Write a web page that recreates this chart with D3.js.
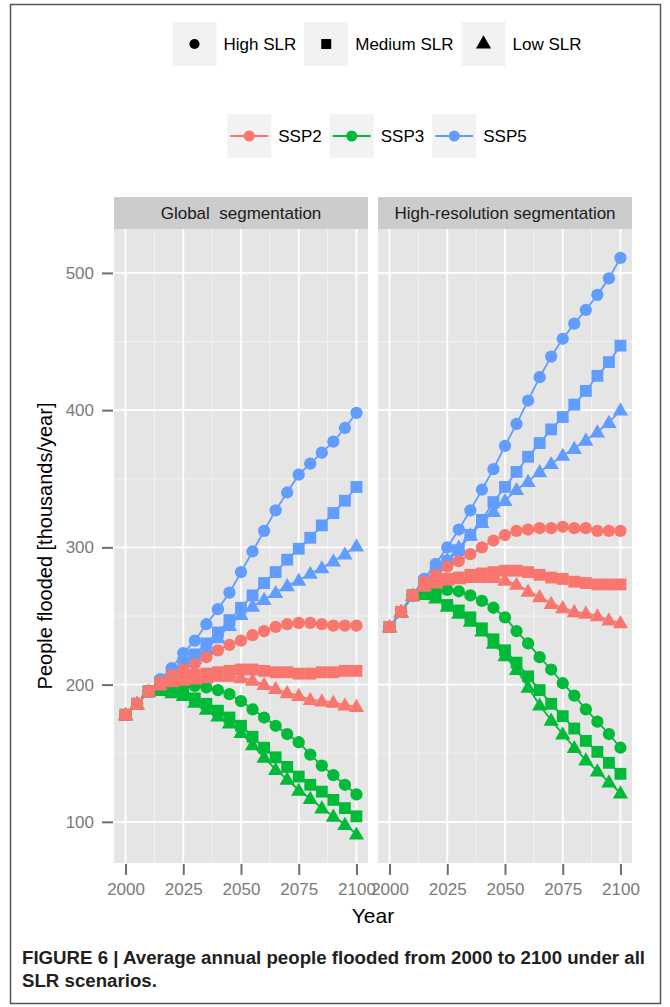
<!DOCTYPE html>
<html>
<head>
<meta charset="utf-8">
<script src="https://cdn.jsdelivr.net/npm/d3@7"></script>
<style>
  body { margin: 0; background: #fff; }
  text { font-family: "Liberation Sans", Arial, Helvetica, sans-serif; }
</style>
</head>
<body>
<svg id="chart" width="670" height="1007"></svg>
<script>
// ---- data ----
const years = [2000, 2005, 2010, 2015, 2020, 2025, 2030, 2035, 2040, 2045, 2050,
               2055, 2060, 2065, 2070, 2075, 2080, 2085, 2090, 2095, 2100];
const panelNames = ["Global  segmentation", "High-resolution segmentation"];
const sspNames = ["SSP2", "SSP3", "SSP5"];
const slrNames = ["High SLR", "Medium SLR", "Low SLR"];
const sspColors = ["#F8766D", "#00BA38", "#619CFF"];
const xTicks = [2000, 2025, 2050, 2075, 2100];
const yTicks = [100, 200, 300, 400, 500];

// Global segmentation
const globSSP2High = [178,186,195,202,207,211,215,220,225,229,232,236,239,242,244,245,245,244,243,243,243];
const globSSP2Med  = [178,186,195,200,203,205,207,208,209,210,211,211,210,209,209,208,208,209,209,210,210];
const globSSP2Low  = [178,186,195,200,202,203,204,205,206,206,205,203,200,197,194,192,189,188,187,185,184];
const globSSP3High = [178,186,195,199,199,199,199,198,196,193,188,182,176,170,164,158,149,141,134,127,120];
const globSSP3Med  = [178,186,195,196,195,194,190,186,181,176,170,162,154,147,140,133,127,122,116,110,104];
const globSSP3Low  = [178,186,195,196,194,192,187,182,177,172,165,156,147,138,131,123,117,110,104,98,91];
const globSSP5High = [178,186,195,204,212,223,232,244,255,267,282,297,312,327,340,353,361,369,377,387,398];
const globSSP5Med  = [178,186,195,202,209,216,222,230,238,247,256,265,274,282,291,299,307,316,325,334,344];
const globSSP5Low  = [178,186,195,201,207,213,219,226,234,243,251,257,262,267,272,276,281,285,290,295,301];

// High-resolution segmentation
const hiresSSP2High = [242,253,265,275,280,286,290,295,300,305,309,312,313,314,314,315,314,314,312,312,312];
const hiresSSP2Med  = [242,253,265,272,275,277,278,280,281,282,283,283,282,280,278,277,275,274,273,273,273];
const hiresSSP2Low  = [242,253,265,272,274,276,277,278,278,278,276,273,268,264,259,256,253,252,250,247,245];
const hiresSSP3High = [242,253,265,267,268,269,268,265,261,256,249,239,230,220,211,201,192,182,173,164,154];
const hiresSSP3Med  = [242,253,265,266,264,258,254,249,241,233,225,216,206,196,186,177,168,159,151,143,135];
const hiresSSP3Low  = [242,253,265,266,263,257,252,246,239,230,221,211,198,185,174,164,154,145,137,129,121];
const hiresSSP5High = [242,253,265,277,288,300,313,327,342,357,374,390,407,424,439,452,463,473,484,496,511];
const hiresSSP5Med  = [242,253,265,275,282,290,298,309,320,333,344,355,366,376,386,395,404,414,425,435,447];
const hiresSSP5Low  = [242,253,265,274,282,291,300,309,318,326,334,342,348,355,361,367,372,378,384,391,400];

const seriesTable = [
  [[globSSP2High, globSSP2Med, globSSP2Low], [globSSP3High, globSSP3Med, globSSP3Low], [globSSP5High, globSSP5Med, globSSP5Low]],
  [[hiresSSP2High, hiresSSP2Med, hiresSSP2Low], [hiresSSP3High, hiresSSP3Med, hiresSSP3Low], [hiresSSP5High, hiresSSP5Med, hiresSSP5Low]]
];

// ---- layout ----
const svg = d3.select("#chart");
const panelX = [114, 378];
const panelW = 254;
const stripTop = 197;
const plotTop = 229;
const plotBottom = 863;
const grey = "#7a7a7a";

svg.append("rect")
  .attr("x", 10.5).attr("y", 4.5)
  .attr("width", 650).attr("height", 999)
  .attr("fill", "none").attr("stroke", "#555").attr("stroke-width", 1.5);

let allValues = [];
seriesTable.forEach(p => p.forEach(s => s.forEach(v => allValues = allValues.concat(v))));
const [lo, hi] = d3.extent(allValues);
const pad = (hi - lo) * 0.05;

let y = d3.scaleLinear().domain([lo - pad, hi + pad]).range([plotBottom, plotTop]);
let x = d3.scaleLinear().domain([1995, 2105]).range([0, panelW]);

const symbolFor = [d3.symbolCircle, d3.symbolSquare, d3.symbolTriangle];
const symbolSize = [118, 140, 100];

panelNames.forEach((name, pi) => {
  let g = svg.append("g").attr("transform", `translate(${panelX[pi]},0)`);

  g.append("rect").attr("x", 0).attr("y", plotTop)
    .attr("width", panelW).attr("height", plotBottom - plotTop)
    .attr("fill", "#E5E5E5");

  // minor grid
  let xMinor = xTicks.slice(1).map((t, i) => (t + xTicks[i]) / 2);
  let yMinor = yTicks.slice(1).map((t, i) => (t + yTicks[i]) / 2);
  g.selectAll(".xminor").data(xMinor).enter().append("line")
    .attr("x1", d => x(d)).attr("x2", d => x(d))
    .attr("y1", plotTop).attr("y2", plotBottom)
    .attr("stroke", "#F2F2F2").attr("stroke-width", 1);
  g.selectAll(".yminor").data(yMinor).enter().append("line")
    .attr("x1", 0).attr("x2", panelW)
    .attr("y1", d => y(d)).attr("y2", d => y(d))
    .attr("stroke", "#F2F2F2").attr("stroke-width", 1);
  // major grid
  g.selectAll(".xmajor").data(xTicks).enter().append("line")
    .attr("x1", d => x(d)).attr("x2", d => x(d))
    .attr("y1", plotTop).attr("y2", plotBottom)
    .attr("stroke", "#fff").attr("stroke-width", 1.8);
  g.selectAll(".ymajor").data(yTicks).enter().append("line")
    .attr("x1", 0).attr("x2", panelW)
    .attr("y1", d => y(d)).attr("y2", d => y(d))
    .attr("stroke", "#fff").attr("stroke-width", 1.8);

  // strip
  g.append("rect").attr("x", 0).attr("y", stripTop)
    .attr("width", panelW).attr("height", plotTop - stripTop)
    .attr("fill", "#CCCCCC");
  g.append("text")
    .attr("x", panelW / 2).attr("y", (stripTop + plotTop) / 2)
    .attr("dy", "0.35em")
    .attr("text-anchor", "middle")
    .style("white-space", "pre")
    .attr("font-size", 17).attr("fill", "#1a1a1a")
    .text(name);

  // x axis
  let axisX = d3.axisBottom(x).tickValues(xTicks).tickSize(11).tickPadding(8).tickFormat(d3.format("d"));
  let ax = g.append("g").attr("transform", `translate(0,${plotBottom + 1})`).call(axisX);
  ax.select(".domain").remove();
  ax.selectAll("line").attr("stroke", "#6e6e6e").attr("stroke-width", 2);
  ax.selectAll("text").attr("font-size", 17).attr("fill", grey)
    .style("font-family", "'Liberation Sans', Arial, sans-serif");

  // lines
  let line = d3.line().x((d, i) => x(years[i])).y(d => y(d));
  seriesTable[pi].forEach((ssp, si) => {
    ssp.forEach(vals => {
      g.append("path").attr("d", line(vals))
        .attr("fill", "none").attr("stroke", sspColors[si]).attr("stroke-width", 1.8);
    });
  });

  // points
  [2, 1, 0].forEach(si => {
    seriesTable[pi][si].forEach((vals, k) => {
      g.selectAll(null).data(vals).enter().append("path")
        .attr("d", d3.symbol().type(symbolFor[k]).size(symbolSize[k]))
        .attr("transform", (d, i) => `translate(${x(years[i])},${y(d) + (k == 2 ? 1 : 0)})`)
        .attr("fill", sspColors[si]);
    });
  });
});

// y axis
let axisY = d3.axisLeft(y).tickValues(yTicks).tickSize(11).tickPadding(8);
let ay = svg.append("g").attr("transform", `translate(${panelX[0] - 1},0)`).call(axisY);
ay.select(".domain").remove();
ay.selectAll("line").attr("stroke", "#6e6e6e").attr("stroke-width", 2);
ay.selectAll("text").attr("font-size", 17).attr("fill", grey)
  .style("font-family", "'Liberation Sans', Arial, sans-serif");

// axis titles
svg.append("text")
  .attr("transform", `translate(45,${(plotTop + plotBottom) / 2}) rotate(-90)`)
  .attr("text-anchor", "middle").attr("dy", "0.35em")
  .attr("font-size", 20).attr("fill", "#000")
  .text("People flooded [thousands/year]");
svg.append("text")
  .attr("x", (panelX[0] + panelX[1] + panelW) / 2).attr("y", 916)
  .attr("text-anchor", "middle").attr("dy", "0.35em")
  .attr("font-size", 21).attr("fill", "#000")
  .text("Year");

// legends
function drawLegend(labels, cy, drawKey) {
  let g = svg.append("g");
  let pos = 0;
  labels.forEach((label, i) => {
    let key = g.append("g").attr("transform", `translate(${pos},${cy - 22})`);
    key.append("rect").attr("width", 44).attr("height", 44).attr("fill", "#F2F2F2");
    drawKey(key, i);
    let t = g.append("text").attr("x", pos + 51).attr("y", cy).attr("dy", "0.35em")
      .attr("font-size", 17).attr("fill", "#000").text(label);
    pos += 51 + t.node().getComputedTextLength() + 8;
  });
  g.attr("transform", `translate(${377 - (pos - 8) / 2},0)`);
}

drawLegend(slrNames, 44, (key, i) => {
  key.append("path")
    .attr("d", d3.symbol().type(symbolFor[i]).size(i == 0 ? 80 : 100))
    .attr("transform", "translate(22,22)")
    .attr("fill", "#000");
});

drawLegend(sspNames, 136, (key, i) => {
  key.append("line").attr("x1", 3).attr("x2", 41).attr("y1", 22).attr("y2", 22)
    .attr("stroke", sspColors[i]).attr("stroke-width", 1.8);
  key.append("circle").attr("cx", 22).attr("cy", 22).attr("r", 5.5).attr("fill", sspColors[i]);
});

// caption
let cap1 = svg.append("text").attr("x", 22).attr("y", 964)
  .attr("font-size", 18).attr("font-weight", "bold").attr("fill", "#231f20")
  .text("FIGURE 6 | Average annual people flooded from 2000 to 2100 under all");
let cap2 = svg.append("text").attr("x", 22).attr("y", 987)
  .attr("font-size", 18).attr("font-weight", "bold").attr("fill", "#231f20")
  .text("SLR scenarios.");
let ratio = 623 / cap1.node().getComputedTextLength();
cap1.attr("textLength", 623).attr("lengthAdjust", "spacingAndGlyphs");
cap2.attr("textLength", cap2.node().getComputedTextLength() * ratio).attr("lengthAdjust", "spacingAndGlyphs");
</script>
</body>
</html>
